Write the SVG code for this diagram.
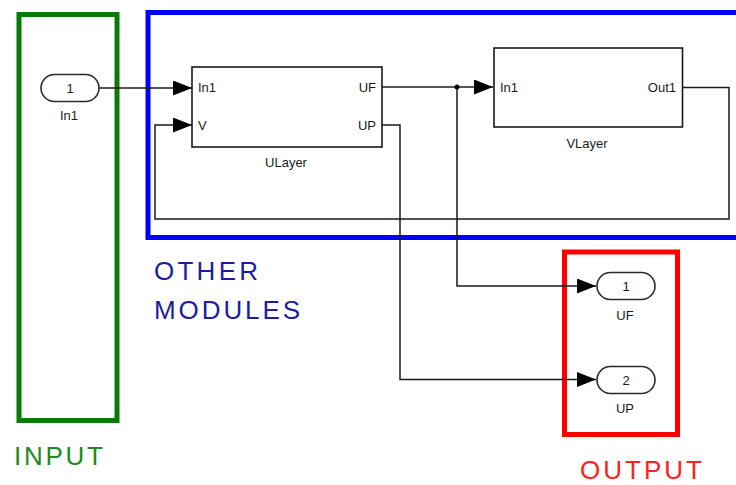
<svg xmlns="http://www.w3.org/2000/svg" width="736" height="485" viewBox="0 0 736 485">
<defs>
<style>
.blk{fill:#fff;stroke:#1a1a1a;stroke-width:1.6}
.port{fill:#fff;stroke:#2a2a2a;stroke-width:1.6}
.wire{fill:none;stroke:#1a1a1a;stroke-width:1.5}
.t{font-family:"Liberation Sans",Arial,sans-serif;font-size:13px;fill:#1a1a1a}
.tc{text-anchor:middle}
.big{font-family:"Liberation Sans",Arial,sans-serif;font-size:26px}
</style>
<marker id="arr" markerUnits="userSpaceOnUse" markerWidth="20" markerHeight="16" refX="19" refY="7.5" orient="auto">
<path d="M0,0 L19,7.5 L0,15 Z" fill="#000"/>
</marker>
</defs>
<rect width="736" height="485" fill="#fff"/>

<g id="input-region">
<rect x="19" y="14.5" width="98" height="406" fill="none" stroke="#0a7a0a" stroke-width="5"/>
<text class="big" x="14" y="465" fill="#1a8c1a" textLength="89" lengthAdjust="spacing">INPUT</text>
</g>

<g id="other-modules">
<rect x="148" y="12.5" width="600" height="225" fill="none" stroke="#0000ff" stroke-width="5"/>
<text class="big" x="154" y="280" font-size="24" fill="#1c1ca0" textLength="104" lengthAdjust="spacing">OTHER</text>
<text class="big" x="154" y="319" font-size="24" fill="#1c1ca0" textLength="146" lengthAdjust="spacing">MODULES</text>
</g>

<g id="output-region">
<rect x="564.5" y="252" width="113" height="182.5" fill="none" stroke="#ff0000" stroke-width="5"/>
<text class="big" x="580" y="479" fill="#ff2020" textLength="122" lengthAdjust="spacing">OUTPUT</text>
</g>

<g id="connectors">
<path class="wire" d="M99,88 H192" marker-end="url(#arr)"/>
<path class="wire" d="M382,87 H493" marker-end="url(#arr)"/>
<path class="wire" d="M682,87.5 H729 V219 H155 V125 H192" marker-end="url(#arr)"/>
<path class="wire" d="M457,87 V286 H596" marker-end="url(#arr)"/>
<path class="wire" d="M382,125 H400 V379.5 H596" marker-end="url(#arr)"/>
<circle cx="457" cy="87" r="2.5" fill="#000"/>
</g>

<g id="in1">
<rect class="port" x="41" y="74.5" width="58" height="27" rx="13.5"/>
<text class="t tc" x="70" y="93">1</text>
<text class="t tc" x="69" y="120">In1</text>
</g>

<g id="ulayer">
<rect class="blk" x="192" y="67" width="190" height="80"/>
<text class="t" x="198" y="92">In1</text>
<text class="t" x="198" y="130">V</text>
<text class="t" x="376" y="92" text-anchor="end">UF</text>
<text class="t" x="376" y="130" text-anchor="end">UP</text>
<text class="t tc" x="286" y="167">ULayer</text>
</g>

<g id="vlayer">
<rect class="blk" x="494" y="48" width="188.5" height="79"/>
<text class="t" x="500" y="92">In1</text>
<text class="t" x="676" y="92" text-anchor="end">Out1</text>
<text class="t tc" x="587" y="148">VLayer</text>
</g>

<g id="out-uf">
<rect class="port" x="597" y="272.5" width="58" height="27" rx="13.5"/>
<text class="t tc" x="626" y="291">1</text>
<text class="t tc" x="625" y="320">UF</text>
</g>

<g id="out-up">
<rect class="port" x="597" y="366.5" width="58" height="27" rx="13.5"/>
<text class="t tc" x="626" y="385">2</text>
<text class="t tc" x="625" y="413">UP</text>
</g>
</svg>
